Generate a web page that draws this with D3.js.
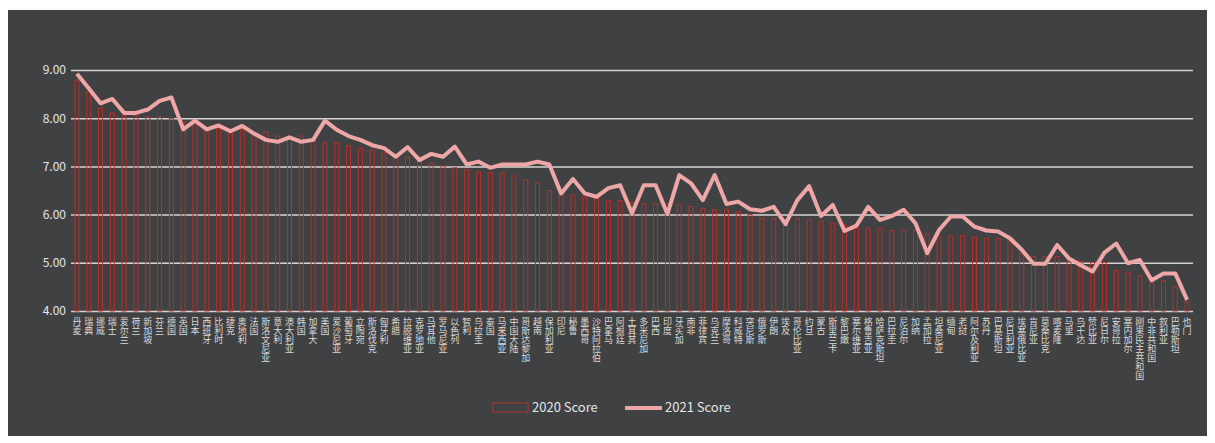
<!DOCTYPE html>
<html>
<head>
<meta charset="utf-8">
<script src="https://cdn.jsdelivr.net/npm/d3@7/dist/d3.min.js"></script>
<style>
  html, body { margin: 0; padding: 0; background: #ffffff; }
  svg text { font-family: "Noto Sans CJK SC", "Noto Sans", sans-serif; }
</style>
</head>
<body>
<div id="chart"></div>
<script>
// categories (left to right)
const countries = [
  "丹麦","瑞典","挪威","瑞士","爱尔兰","荷兰","新加坡","芬兰","德国","英国",
  "日本","西班牙","比利时","捷克","奥地利","法国","斯洛文尼亚","意大利","澳大利亚","韩国",
  "加拿大","美国","爱沙尼亚","葡萄牙","立陶宛","斯洛伐克","匈牙利","希腊","拉脱维亚","克罗地亚",
  "马耳他","罗马尼亚","以色列","智利","乌拉圭","泰国","马来西亚","中国大陆","哥斯达黎加","越南",
  "保加利亚","印尼","秘鲁","墨西哥","沙特阿拉伯","巴拿马","阿根廷","土耳其","多米尼加","巴西",
  "印度","牙买加","南非","菲律宾","乌克兰","摩洛哥","科威特","突尼斯","俄罗斯","伊朗",
  "埃及","哥伦比亚","约旦","蒙古","斯里兰卡","黎巴嫩","塞尔维亚","格鲁吉亚","哈萨克斯坦","巴拉圭",
  "尼泊尔","加纳","孟加拉","坦桑尼亚","缅甸","老挝","阿尔及利亚","苏丹","巴基斯坦","尼日利亚",
  "埃塞俄比亚","肯尼亚","莫桑比克","喀麦隆","马里","乌干达","赞比亚","尼日尔","安哥拉","塞内加尔",
  "刚果民主共和国","中非共和国","叙利亚","巴勒斯坦","也门"
];

const score2020 = [
  8.79,8.55,8.21,8.11,8.05,8.05,8.03,8.03,8.00,7.93,
  7.93,7.74,7.78,7.70,7.76,7.70,7.72,7.63,7.63,7.63,
  7.55,7.49,7.49,7.43,7.38,7.34,7.29,7.19,7.19,7.10,
  7.06,7.01,6.97,6.93,6.89,6.87,6.86,6.80,6.72,6.66,
  6.50,6.41,6.41,6.37,6.34,6.29,6.29,6.25,6.23,6.23,
  6.23,6.21,6.17,6.13,6.10,6.10,6.06,6.00,5.92,5.92,
  5.82,5.92,5.90,5.87,5.82,5.78,5.72,5.72,5.72,5.67,
  5.67,5.67,5.60,5.56,5.56,5.56,5.53,5.51,5.51,5.44,
  5.20,5.13,5.13,5.13,5.06,5.04,5.01,5.01,4.84,4.80,
  4.73,4.59,4.63,4.50,4.19
];

const score2021 = [
  8.92,8.62,8.31,8.40,8.11,8.11,8.18,8.36,8.43,7.77,
  7.95,7.77,7.85,7.73,7.84,7.68,7.55,7.51,7.60,7.51,
  7.55,7.95,7.76,7.63,7.55,7.44,7.38,7.20,7.40,7.13,
  7.26,7.20,7.41,7.04,7.10,6.97,7.04,7.04,7.04,7.10,
  7.04,6.44,6.74,6.44,6.37,6.55,6.61,6.03,6.61,6.61,
  6.01,6.82,6.65,6.30,6.82,6.22,6.27,6.11,6.08,6.16,
  5.80,6.30,6.59,5.97,6.20,5.66,5.77,6.16,5.89,5.97,
  6.10,5.82,5.20,5.68,5.96,5.96,5.75,5.67,5.65,5.51,
  5.27,4.98,4.98,5.37,5.09,4.95,4.82,5.21,5.40,4.99,
  5.06,4.64,4.78,4.78,4.23
];

const yTicks = [4, 5, 6, 7, 8, 9];
const seriesNames = ["2020 Score", "2021 Score"];

const W = 1215, H = 443;
const plot = { left: 71, right: 1193, top: 70, bottom: 311 };

const svg = d3.select("#chart").append("svg")
  .attr("width", W)
  .attr("height", H);

// dark panel
svg.append("rect")
  .attr("x", 8).attr("y", 10)
  .attr("width", 1199).attr("height", 426)
  .attr("fill", "#404143");

const x = d3.scaleBand()
  .domain(countries)
  .range([plot.left, plot.right])
  .paddingInner(0.66)
  .paddingOuter(0.33);

const y = d3.scaleLinear()
  .domain([4, 9])
  .range([plot.bottom, plot.top]);

// gridlines + y labels
const yAxis = d3.axisLeft(y)
  .tickValues(yTicks)
  .tickSize(-(plot.right - plot.left))
  .tickPadding(6)
  .tickFormat(d3.format(".2f"));

const gy = svg.append("g")
  .attr("transform", `translate(${plot.left},0)`)
  .call(yAxis);
gy.select(".domain").remove();
gy.selectAll(".tick line")
  .attr("stroke", "#d4d4d4")
  .attr("stroke-width", 1.5);
gy.selectAll(".tick text")
  .attr("fill", "#e6e6e6")
  .attr("font-size", 12)
  .attr("x", -5);

// 2020 bars (outlined)
svg.append("g").selectAll("rect")
  .data(countries)
  .join("rect")
  .attr("x", d => x(d))
  .attr("y", (d, i) => y(score2020[i]))
  .attr("width", x.bandwidth())
  .attr("height", (d, i) => y(4) - y(score2020[i]))
  .attr("fill", "none")
  .attr("stroke", "#b5302b")
  .attr("stroke-width", 1);

// 2021 line
const line = d3.line()
  .x((d, i) => x(countries[i]) + x.bandwidth() / 2)
  .y(d => y(d));

svg.append("path")
  .datum(score2021)
  .attr("d", line)
  .attr("fill", "none")
  .attr("stroke", "#eea7a6")
  .attr("stroke-width", 4)
  .attr("stroke-linejoin", "round");

// x labels, vertical
svg.append("g").selectAll("text")
  .data(countries)
  .join("text")
  .attr("x", d => x(d) + x.bandwidth() / 2)
  .attr("y", plot.bottom + 6)
  .attr("writing-mode", "vertical-rl")
  .attr("font-size", 9)
  .attr("fill", "#d9d9d9")
  .text(d => d);

// legend
const lg = svg.append("g").attr("font-size", 13).attr("fill", "#e6e6e6");
lg.append("rect")
  .attr("x", 493).attr("y", 403)
  .attr("width", 35).attr("height", 9)
  .attr("fill", "none")
  .attr("stroke", "#b5302b")
  .attr("stroke-width", 1);
lg.append("text")
  .attr("x", 532).attr("y", 412)
  .attr("font-family", "Lato, 'Open Sans', sans-serif")
  .text(seriesNames[0]);
lg.append("line")
  .attr("x1", 625).attr("x2", 662)
  .attr("y1", 408).attr("y2", 408)
  .attr("stroke", "#eea7a6")
  .attr("stroke-width", 4);
lg.append("text")
  .attr("x", 665).attr("y", 412)
  .attr("font-family", "Lato, 'Open Sans', sans-serif")
  .text(seriesNames[1]);
</script>
</body>
</html>
